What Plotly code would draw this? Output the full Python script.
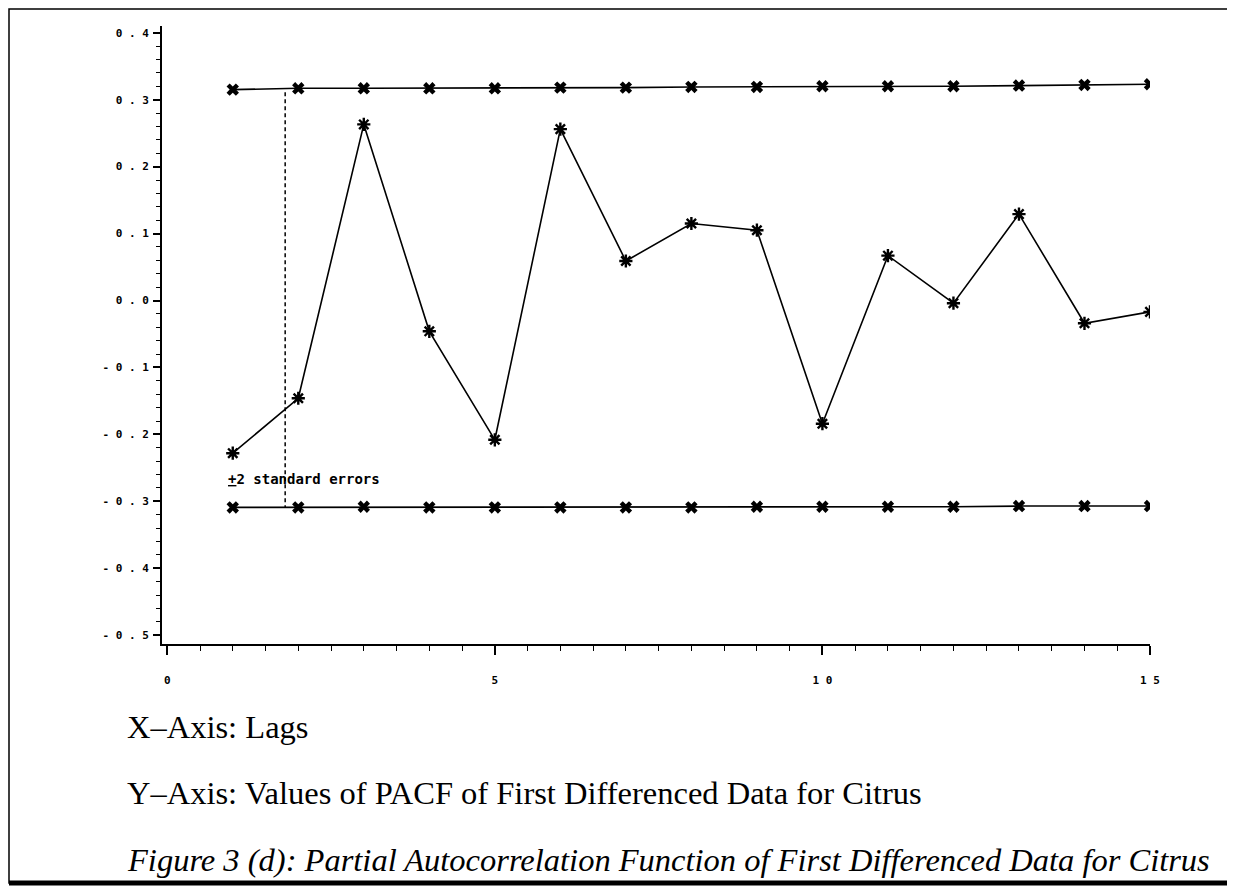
import plotly.graph_objects as go

# ---- data ----
lags = list(range(1, 16))
pacf = [-0.228, -0.146, 0.263, -0.046, -0.208, 0.256, 0.059, 0.115, 0.105,
        -0.184, 0.067, -0.004, 0.129, -0.034, -0.017]
upper = [0.315, 0.317, 0.317, 0.317, 0.317, 0.318, 0.318, 0.319, 0.319,
         0.320, 0.320, 0.320, 0.321, 0.322, 0.323]
lower = [-0.309, -0.309, -0.308, -0.309, -0.309, -0.309, -0.309, -0.309, -0.308,
         -0.308, -0.308, -0.308, -0.307, -0.307, -0.307]

y_tickvals = [0.4, 0.3, 0.2, 0.1, 0.0, -0.1, -0.2, -0.3, -0.4, -0.5]
y_ticktext = ["0 . 4", "0 . 3", "0 . 2", "0 . 1", "0 . 0",
              "- 0 . 1", "- 0 . 2", "- 0 . 3", "- 0 . 4", "- 0 . 5"]
x_tickvals = [0, 5, 10, 15]
x_ticktext = ["0", "5", "1 0", "1 5"]

legend_lag = 1.8
legend_text = "<u>+</u>2 standard errors"
label_x = "X\u2013Axis: Lags"
label_y = "Y\u2013Axis: Values of PACF of First Differenced Data for Citrus"
caption = "Figure 3 (d): Partial Autocorrelation Function of First Differenced Data for Citrus"

# page has an 8px body margin: figure pixel = reference pixel - OFF
OFF = 8
W, H = 1227, 880
L, R = 162 - OFF, W - (1150 - OFF)
T, Bpx = 26 - OFF, 644 - OFF
B = H - Bpx
PW, PH = W - L - R, H - T - B


def px_x(p):
    return (p - OFF - L) / PW


def px_y(p):
    return (H - B - (p - OFF)) / PH


fig = go.Figure()

bound_style = dict(mode="lines+markers", line=dict(color="black", width=1.6),
                   marker=dict(symbol="x", size=11, color="black"),
                   showlegend=False, hoverinfo="skip")
fig.add_trace(go.Scatter(x=lags, y=upper, **bound_style))
fig.add_trace(go.Scatter(x=lags, y=lower, **bound_style))
fig.add_trace(go.Scatter(
    x=lags, y=pacf, mode="lines+markers",
    line=dict(color="black", width=1.6),
    marker=dict(symbol="asterisk-open", size=11, color="black",
                line=dict(color="black", width=2.4)),
    showlegend=False))

mono = "DejaVu Sans Mono"
serif = "Liberation Serif"

fig.update_layout(
    width=W, height=H,
    margin=dict(l=L, r=R, t=T, b=B, pad=0),
    paper_bgcolor="white", plot_bgcolor="white",
    xaxis=dict(range=[-0.08, 15.0], showgrid=False, zeroline=False,
               showline=True, linecolor="black", linewidth=2,
               ticks="outside", ticklen=9, tickwidth=1.5, tickcolor="black",
               tickvals=x_tickvals, ticktext=x_ticktext,
               ticklabelstandoff=16,
               tickfont=dict(family=mono, size=11, color="black", weight="bold"),
               minor=dict(dtick=0.5, tick0=0, ticks="outside", ticklen=5,
                          tickwidth=1.2, tickcolor="black", showgrid=False)),
    yaxis=dict(range=[-0.513, 0.41], showgrid=False, zeroline=False,
               showline=True, linecolor="black", linewidth=2,
               ticks="outside", ticklen=7, tickwidth=1.5, tickcolor="black",
               tickvals=y_tickvals, ticktext=y_ticktext,
               ticklabelstandoff=2,
               tickfont=dict(family=mono, size=11, color="black", weight="bold"),
               minor=dict(dtick=0.02, tick0=0, ticks="outside", ticklen=4,
                          tickwidth=1.2, tickcolor="black", showgrid=False)),
)

# dashed pointer from the legend text to the bound lines
fig.add_shape(type="line", xref="x", yref="y", x0=legend_lag, x1=legend_lag,
              y0=upper[0] - 0.004, y1=lower[0],
              line=dict(color="black", width=1.5, dash="4px,3px"))

fig.add_annotation(xref="x", yref="y", x=lags[0] - 0.1, y=-0.267,
                   text=legend_text, showarrow=False, xanchor="left", yanchor="middle",
                   font=dict(family=mono, size=14, color="black", weight="bold"))

for txt, ypx, italic in [(label_x, 727, False), (label_y, 793, False), (caption, 860, True)]:
    fig.add_annotation(xref="paper", yref="paper", x=px_x(125), y=px_y(ypx),
                       text=txt, showarrow=False, xanchor="left", yanchor="middle",
                       font=dict(family=serif, size=32.5, color="black",
                                 style="italic" if italic else "normal"))

# outer frame
fig.add_shape(type="rect", xref="paper", yref="paper",
              x0=px_x(OFF + 1), x1=px_x(1232), y0=px_y(883), y1=px_y(OFF + 1),
              line=dict(color="black", width=1.5))
fig.add_shape(type="line", xref="paper", yref="paper",
              x0=px_x(OFF + 1), x1=px_x(1232), y0=px_y(883), y1=px_y(883),
              line=dict(color="black", width=5))

fig.write_html("out.html")
